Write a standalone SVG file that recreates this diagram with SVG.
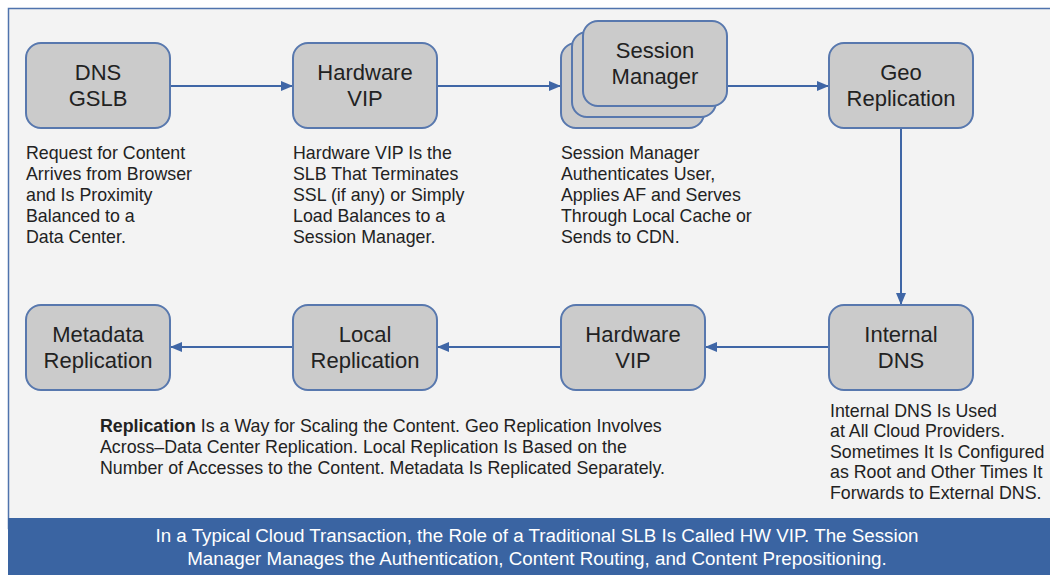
<svg xmlns="http://www.w3.org/2000/svg" width="1050" height="575" viewBox="0 0 1050 575">
<style>
.box{fill:#cbcbcb;stroke:#5878ae;stroke-width:2}
.lbl{font-family:"Liberation Sans",Arial,sans-serif;font-size:22px;fill:#222;text-anchor:middle}
.desc{font-family:"Liberation Sans",Arial,sans-serif;font-size:17.8px;fill:#222}
.band{font-family:"Liberation Sans",Arial,sans-serif;font-size:18.8px;fill:#fff;text-anchor:middle}
.conn{stroke:#3f66a6;stroke-width:2;fill:none}
</style>
<defs>
<marker id="ah" viewBox="0 0 12 10" refX="12" refY="5" markerWidth="12" markerHeight="10" markerUnits="userSpaceOnUse" orient="auto">
<path d="M0,0 L12,5 L0,10 Z" fill="#3f66a6"/>
</marker>
</defs>
<rect x="0" y="0" width="1050" height="575" fill="#fff"/>
<rect x="8.5" y="8.5" width="1045" height="520" fill="#f3f3f3" stroke="#4f73ad" stroke-width="1.5"/>
<rect x="8" y="518" width="1042" height="57" fill="#3a64a2"/>
<text class="band" x="537" y="542">In a Typical Cloud Transaction, the Role of a Traditional SLB Is Called HW VIP. The Session</text>
<text class="band" x="537" y="565">Manager Manages the Authentication, Content Routing, and Content Prepositioning.</text>

<g id="connectors">
<line class="conn" x1="170" y1="86" x2="293" y2="86" marker-end="url(#ah)"/>
<line class="conn" x1="437" y1="86" x2="561" y2="86" marker-end="url(#ah)"/>
<line class="conn" x1="727" y1="86" x2="829" y2="86" marker-end="url(#ah)"/>
<line class="conn" x1="901" y1="128" x2="901" y2="305" marker-end="url(#ah)"/>
<line class="conn" x1="829" y1="347" x2="705" y2="347" marker-end="url(#ah)"/>
<line class="conn" x1="561" y1="347" x2="437" y2="347" marker-end="url(#ah)"/>
<line class="conn" x1="293" y1="347" x2="170" y2="347" marker-end="url(#ah)"/>
</g>

<g id="dns-gslb">
<rect class="box" x="26" y="43" width="144" height="85" rx="15"/>
<text class="lbl" x="98" y="80">DNS</text>
<text class="lbl" x="98" y="106">GSLB</text>
</g>
<g id="hardware-vip-top">
<rect class="box" x="293" y="43" width="144" height="85" rx="15"/>
<text class="lbl" x="365" y="80">Hardware</text>
<text class="lbl" x="365" y="106">VIP</text>
</g>
<g id="session-manager">
<rect class="box" x="561" y="43" width="143" height="85" rx="15"/>
<rect class="box" x="572" y="32" width="144" height="85" rx="15"/>
<rect class="box" x="583" y="21" width="144" height="85" rx="15"/>
<text class="lbl" x="655" y="58">Session</text>
<text class="lbl" x="655" y="84">Manager</text>
</g>
<g id="geo-replication">
<rect class="box" x="829" y="43" width="144" height="85" rx="15"/>
<text class="lbl" x="901" y="80">Geo</text>
<text class="lbl" x="901" y="106">Replication</text>
</g>
<g id="internal-dns">
<rect class="box" x="829" y="305" width="144" height="85" rx="15"/>
<text class="lbl" x="901" y="342">Internal</text>
<text class="lbl" x="901" y="368">DNS</text>
</g>
<g id="hardware-vip-bottom">
<rect class="box" x="561" y="305" width="144" height="85" rx="15"/>
<text class="lbl" x="633" y="342">Hardware</text>
<text class="lbl" x="633" y="368">VIP</text>
</g>
<g id="local-replication">
<rect class="box" x="293" y="305" width="144" height="85" rx="15"/>
<text class="lbl" x="365" y="342">Local</text>
<text class="lbl" x="365" y="368">Replication</text>
</g>
<g id="metadata-replication">
<rect class="box" x="26" y="305" width="144" height="85" rx="15"/>
<text class="lbl" x="98" y="342">Metadata</text>
<text class="lbl" x="98" y="368">Replication</text>
</g>

<g id="desc-dns">
<text class="desc" x="26" y="159">Request for Content</text>
<text class="desc" x="26" y="180">Arrives from Browser</text>
<text class="desc" x="26" y="201">and Is Proximity</text>
<text class="desc" x="26" y="222">Balanced to a</text>
<text class="desc" x="26" y="243">Data Center.</text>
</g>
<g id="desc-vip">
<text class="desc" x="293" y="159">Hardware VIP Is the</text>
<text class="desc" x="293" y="180">SLB That Terminates</text>
<text class="desc" x="293" y="201">SSL (if any) or Simply</text>
<text class="desc" x="293" y="222">Load Balances to a</text>
<text class="desc" x="293" y="243">Session Manager.</text>
</g>
<g id="desc-session">
<text class="desc" x="561" y="159">Session Manager</text>
<text class="desc" x="561" y="180">Authenticates User,</text>
<text class="desc" x="561" y="201">Applies AF and Serves</text>
<text class="desc" x="561" y="222">Through Local Cache or</text>
<text class="desc" x="561" y="243">Sends to CDN.</text>
</g>
<g id="desc-internal-dns">
<text class="desc" x="830" y="417">Internal DNS Is Used</text>
<text class="desc" x="830" y="437">at All Cloud Providers.</text>
<text class="desc" x="830" y="458">Sometimes It Is Configured</text>
<text class="desc" x="830" y="478">as Root and Other Times It</text>
<text class="desc" x="830" y="499">Forwards to External DNS.</text>
</g>
<g id="desc-replication">
<text class="desc" x="100" y="432"><tspan font-weight="bold">Replication</tspan> Is a Way for Scaling the Content. Geo Replication Involves</text>
<text class="desc" x="100" y="453">Across–Data Center Replication. Local Replication Is Based on the</text>
<text class="desc" x="100" y="474">Number of Accesses to the Content. Metadata Is Replicated Separately.</text>
</g>
</svg>
